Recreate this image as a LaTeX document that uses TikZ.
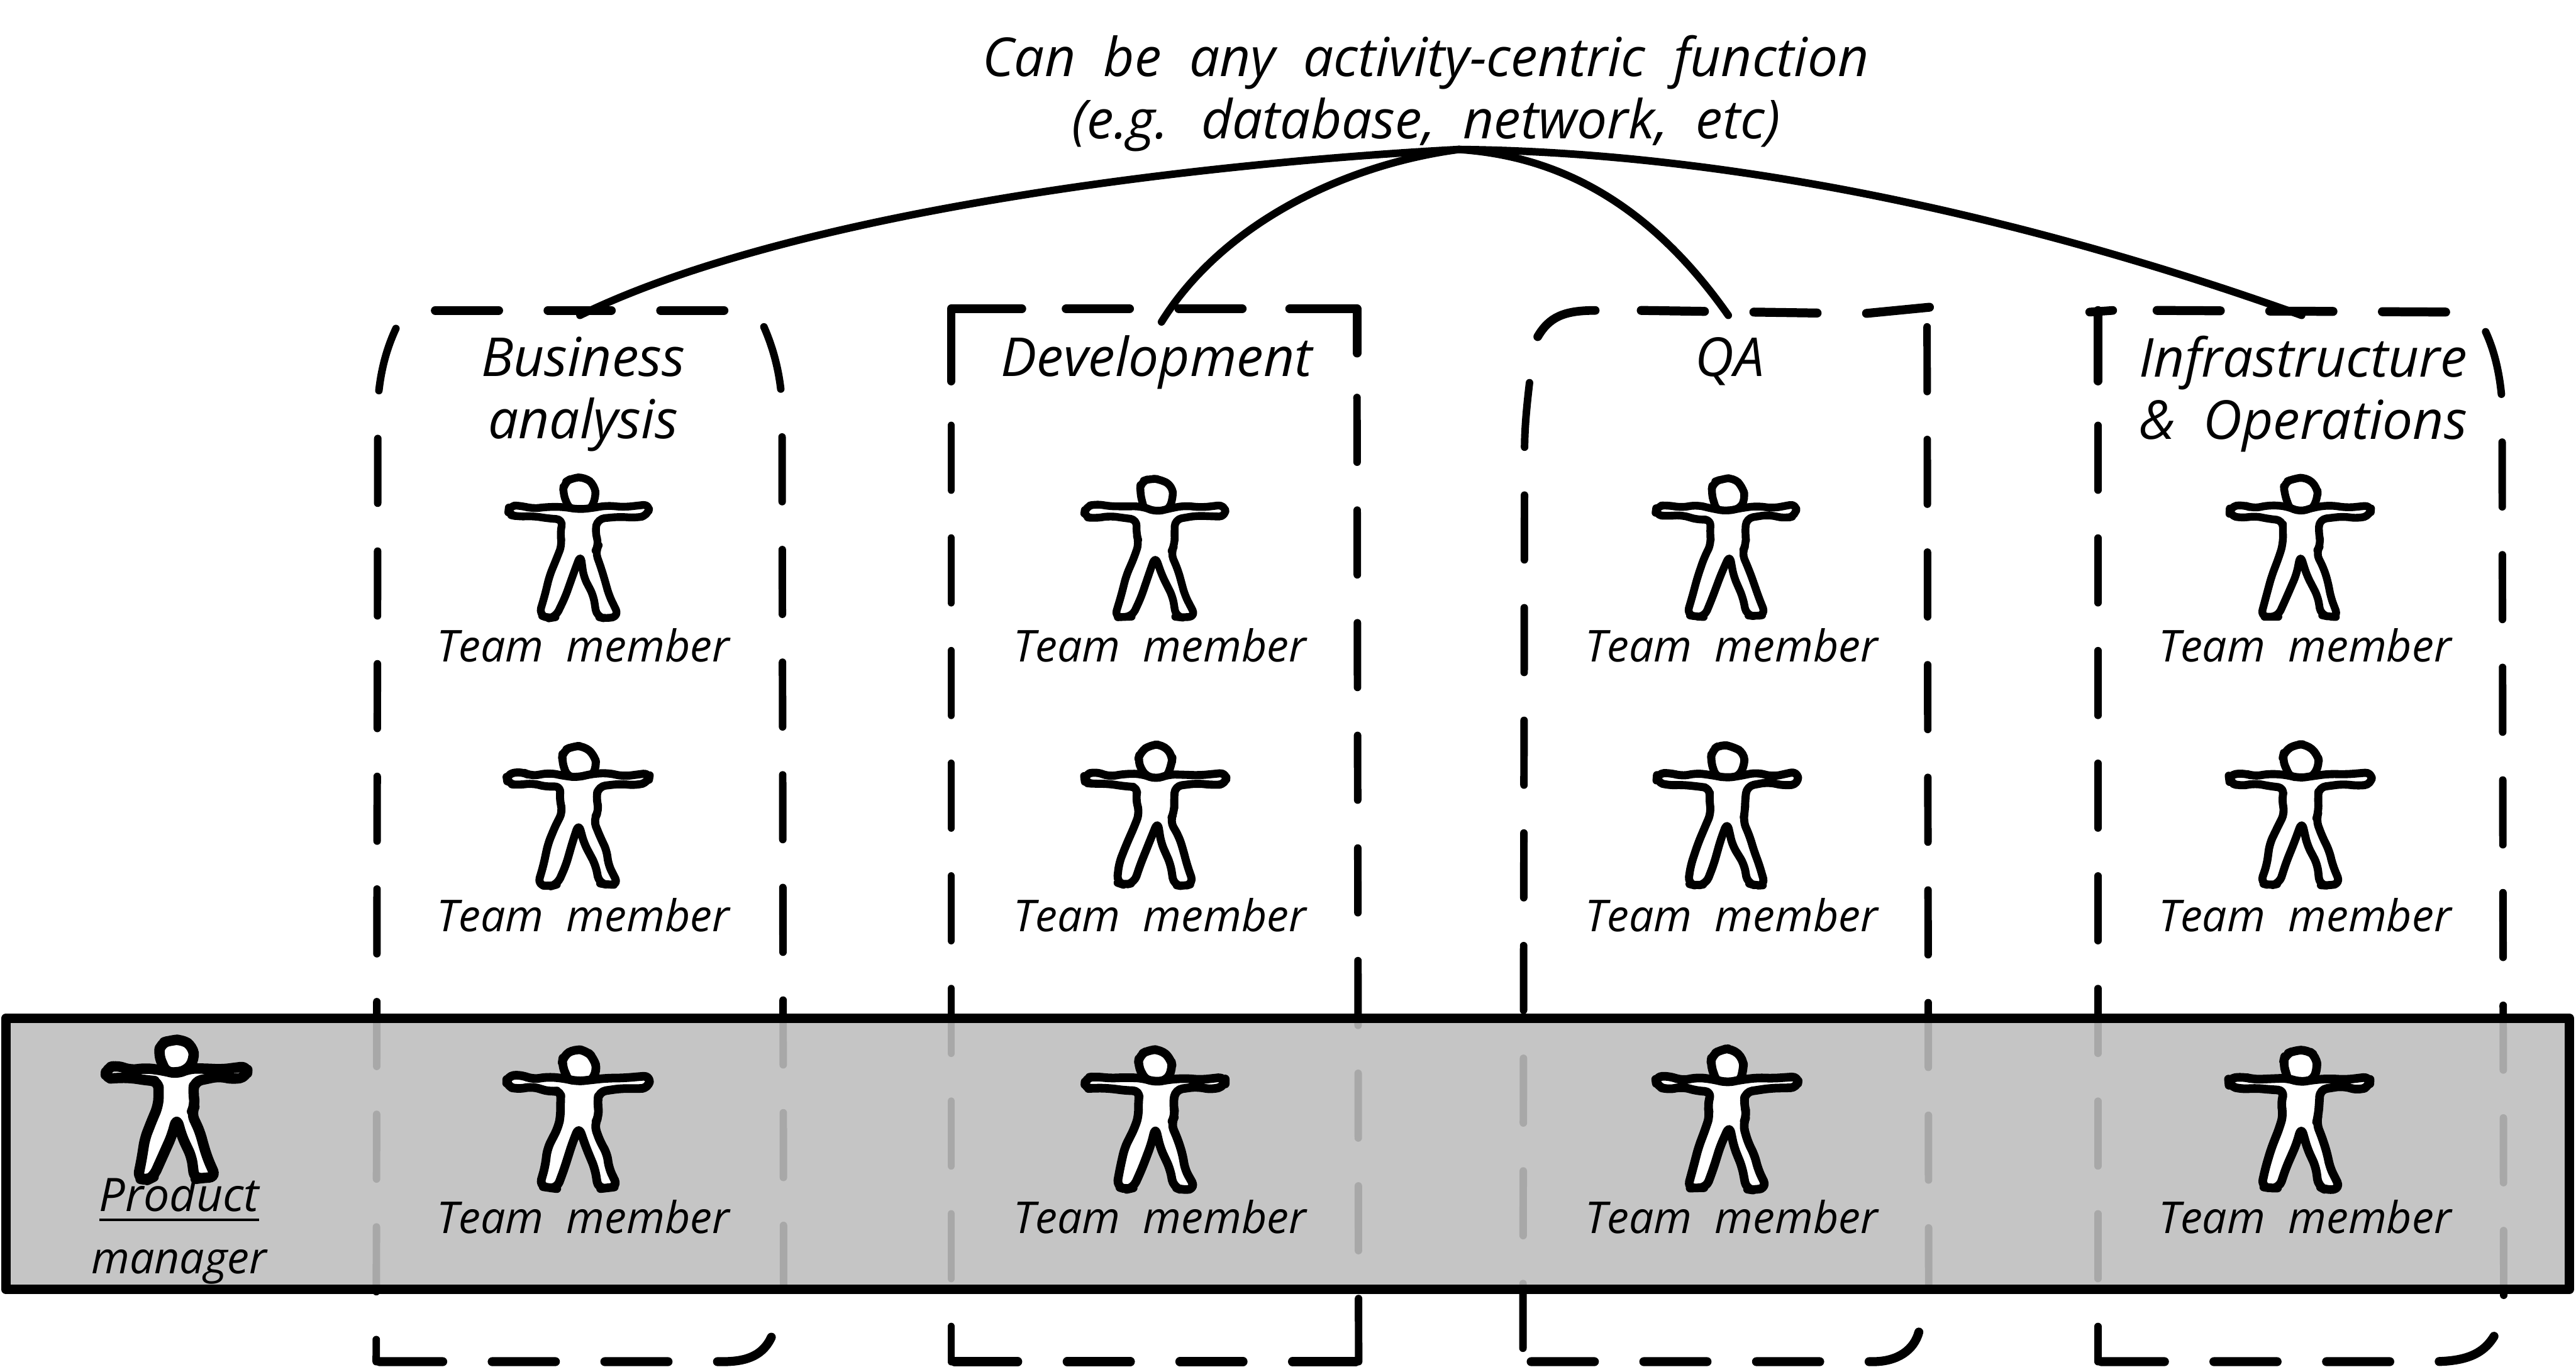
\documentclass[tikz,border=0pt]{standalone}
\usepackage{fontspec}
\setmainfont{Open Sans}[WordSpace=2]

\newcommand{\wob}[2]{(#1-0.9+1.8*rnd,#2-0.9+1.8*rnd)}

\tikzset{
    labeltext/.style={font=\fontsize{7.6}{10.8}\selectfont\itshape, inner sep=0pt, align=center},
    titletext/.style={font=\fontsize{9.3}{10.8}\selectfont\itshape, inner sep=0pt, align=center},
    boxline/.style={line width=1.3pt, line cap=round, dash pattern=on 11.2pt off 8.3pt},
    boxtop/.style={line width=1.55pt, line cap=round, dash pattern=on 10.95pt off 8.55pt},
    corner/.style={line width=1.5pt, line cap=round, line join=round},
    link/.style={line width=1.3pt, line cap=round},
    wobble/.style={rounded corners=1.2pt, line join=round, fill=white},
    person/.pic={
        \draw[wobble] \wob{-10}{9} -- \wob{-9}{3} -- \wob{-3}{0} -- \wob{4}{0} -- \wob{10}{5} -- \wob{11}{12} -- \wob{7}{20} -- \wob{-6}{20} -- cycle;
        \draw[wobble] \wob{-43}{17} -- \wob{-35}{16} -- \wob{-28}{18} -- \wob{-18}{17} -- \wob{-8}{18} -- \wob{0}{20} -- \wob{8}{18} -- \wob{18}{17} -- \wob{28}{18} -- \wob{43}{16}
            -- \wob{43}{23} -- \wob{35}{24} -- \wob{26}{23} -- \wob{12}{25} -- \wob{11}{33} -- \wob{12}{40} -- \wob{10}{45} -- \wob{14}{56} -- \wob{17}{64} -- \wob{19}{72} -- \wob{24}{84}
            -- \wob{17}{85} -- \wob{12}{84} -- \wob{10}{72} -- \wob{4}{60} -- \wob{1}{47} -- \wob{-3}{58} -- \wob{-8}{72} -- \wob{-13}{84} -- \wob{-18}{85} -- \wob{-24}{84}
            -- \wob{-21}{72} -- \wob{-18}{60} -- \wob{-13}{48} -- \wob{-10}{40} -- \wob{-11}{33} -- \wob{-10}{25} -- \wob{-18}{25} -- \wob{-28}{23} -- \wob{-36}{24} -- \wob{-43}{23} -- cycle;
    },
}

\begin{document}
\begin{tikzpicture}[x=0.01cm, y=-0.01cm]
    \useasboundingbox (0,0) rectangle (1568,835.3);
    \pgfmathsetseed{41}

    \node[titletext] (note) at (868,57) {Can be any activity-centric function\\(e.g. database, network, etc)};
    \coordinate (hub) at (888,91);
    \coordinate (batop) at (353,192);
    \coordinate (devtop) at (707,196);
    \coordinate (qatop) at (1052,192);
    \coordinate (infratop) at (1401,192);

    \draw[boxtop] (265,189) -- (443,189);
    \draw[boxline] (241,200) .. controls (234,215) and (231,230) .. (230,245) -- (229,829);
    \draw[boxline] (465,199) .. controls (472,215) and (475,230) .. (476,245) -- (477,795);
    \draw[boxtop] (231,829) -- (440,829) .. controls (455,829) and (465,825) .. (470,813);

    \draw[corner] (622,188) -- (579,188) -- (579,232);
    \draw[boxtop] (649,188) -- (760,188);
    \draw[corner] (785,188) -- (826,188) -- (826,215);
    \draw[boxline] (579,259) -- (579,829);
    \draw[boxline] (826,242) -- (827,829);
    \draw[boxtop] (581,829) -- (827,829);

    \draw[corner] (936,205) .. controls (943,193) and (952,189) .. (971,189);
    \draw[boxtop] (999,189) -- (1134,191) -- (1175,187);
    \draw[boxline] (931,233) .. controls (929,250) and (928,262) .. (928,274) -- (927,822);
    \draw[boxline] (1173,199) -- (1174,785);
    \draw[boxtop] (932,829) -- (1140,829) .. controls (1155,829) and (1165,822) .. (1168,811);

    \draw[corner] (1272,190) -- (1286,189);
    \draw[corner] (1277,189) -- (1277,232);
    \draw[boxtop] (1313,189) -- (1491,190);
    \draw[boxline] (1277,259) -- (1277,829);
    \draw[boxline] (1513,202) .. controls (1519,215) and (1522,230) .. (1523,245) -- (1524,790);
    \draw[boxtop] (1279,829) -- (1480,829) .. controls (1500,829) and (1512,825) .. (1519,812);

    \draw[link] (hub) .. controls (720,100) and (480,130) .. (batop);
    \draw[link] (hub) .. controls (820,100) and (745,135) .. (devtop);
    \draw[link] (hub) .. controls (950,95) and (1005,125) .. (qatop);
    \draw[link] (hub) .. controls (1080,93) and (1270,145) .. (infratop);

    \draw[line width=1.65pt, line join=round, fill={rgb,255:red,190;green,190;blue,190}, fill opacity=0.886] (3.5,620) -- (1564,620) -- (1564,785) -- (3.5,785) -- cycle;

    \foreach \cx/\cname in {352/ba,703/dev,1051/qa,1400/infra} {
        \pic[line width=1.35pt] at (\cx,291) {person};
        \node[labeltext, anchor=base] (\cname one) at (\cx+3,403) {Team member};
        \pic[line width=1.4pt] at (\cx,454) {person};
        \node[labeltext, anchor=base] (\cname two) at (\cx+3,567) {Team member};
        \pic[line width=1.5pt] at (\cx,639) {person};
        \node[labeltext, anchor=base] (\cname three) at (\cx+3,751) {Team member};
    }
    \pic[line width=1.8pt] at (107,633) {person};

    \node[titletext] (batitle) at (355,240) {Business\\analysis};
    \node[titletext, anchor=base] (devtitle) at (704,229) {Development};
    \node[titletext, anchor=base] (qatitle) at (1053,229) {QA};
    \node[titletext] (infratitle) at (1402,240) {Infrastructure\\\& Operations};
    \node[labeltext] (pmtitle) at (109,749) {\fontsize{8}{10.8}\selectfont\underline{Product}\\manager};
\end{tikzpicture}
\end{document}
